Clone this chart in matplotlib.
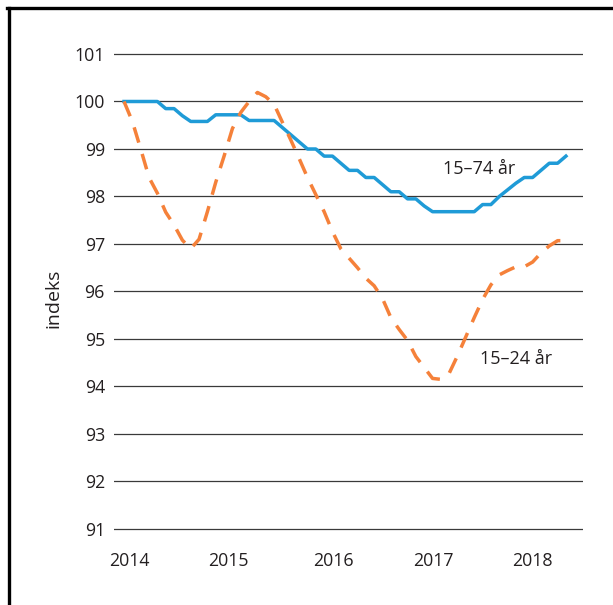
import numpy as np
import matplotlib
matplotlib.use('Agg')
import matplotlib.pyplot as plt
from matplotlib.lines import Line2D

plt.rcParams['font.family'] = ['Open Sans', 'DejaVu Sans']

# monthly index, 2014-01 .. 2018-06
months = np.arange(54)
year_ticks = [0.7, 12.5, 25.1, 37.1, 49.0]
year_labels = ['2014', '2015', '2016', '2017', '2018']

age_15_74 = [100.0, 100.0, 100.0, 100.0, 100.0, 99.85, 99.85, 99.7, 99.58, 99.58,
             99.58, 99.72, 99.72, 99.72, 99.72, 99.6, 99.6, 99.6, 99.6, 99.45,
             99.3, 99.15, 99.0, 99.0, 98.85, 98.85, 98.7, 98.55, 98.55, 98.4,
             98.4, 98.25, 98.1, 98.1, 97.95, 97.95, 97.8, 97.68, 97.68, 97.68,
             97.68, 97.68, 97.68, 97.83, 97.83, 98.0, 98.14, 98.28, 98.4, 98.4,
             98.55, 98.7, 98.7, 98.85]

age_15_24 = [100.0, 99.58, 99.0, 98.4, 98.07, 97.67, 97.4, 97.08, 96.9, 97.1,
             97.68, 98.3, 98.85, 99.43, 99.77, 100.0, 100.19, 100.1, 99.94, 99.56,
             99.19, 98.8, 98.4, 98.04, 97.68, 97.26, 96.9, 96.7, 96.5, 96.28,
             96.12, 95.85, 95.45, 95.2, 94.97, 94.63, 94.4, 94.17, 94.15, 94.28,
             94.65, 95.05, 95.45, 95.83, 96.14, 96.35, 96.44, 96.52, 96.52, 96.62,
             96.81, 96.96, 97.07, 97.07]

blue = '#1f9bd7'
orange = '#f5813a'
txt = '#231f20'

fig = plt.figure(figsize=(6.13, 6.05), dpi=100)
ax = fig.add_axes([0.186, 0.1178, 0.765, 0.8008])

for v in range(91, 102):
    ax.axhline(v, color='#3a3a3a', lw=0.9, zorder=1)

ax.plot(months, age_15_74, color=blue, lw=2.5, zorder=3)
ax.plot(months, age_15_24, color=orange, lw=2.5, dashes=(4.6, 3.4), zorder=4)

ax.text(42.6, 98.47, '15–74 år', ha='center', va='baseline', fontsize=13, color=txt)
ax.text(47.0, 94.47, '15–24 år', ha='center', va='baseline', fontsize=13, color=txt)

ax.set_xlim(-1.2, 55.04)
ax.set_ylim(90.9, 101.1)
ax.set_yticks(range(91, 102))
ax.set_xticks(year_ticks)
ax.set_xticklabels(year_labels)
ax.tick_params(axis='both', length=0, labelsize=12.8, colors=txt)
ax.tick_params(axis='x', pad=13.5)
ax.tick_params(axis='y', pad=6.5)
ax.set_ylabel('indeks', fontsize=14, color=txt)
ax.yaxis.set_label_coords(-0.109, 0.486)
for s in ax.spines.values():
    s.set_visible(False)

# frame around the figure (left and top edges visible)
fig.add_artist(Line2D([8.5 / 613, 8.5 / 613], [0, 1 - 7.5 / 605], color='black', lw=2.4,
                      transform=fig.transFigure))
fig.add_artist(Line2D([7.4 / 613, 1], [1 - 7.5 / 605, 1 - 7.5 / 605], color='black', lw=2.4,
                      transform=fig.transFigure))

fig.savefig('out.png', dpi=100)
